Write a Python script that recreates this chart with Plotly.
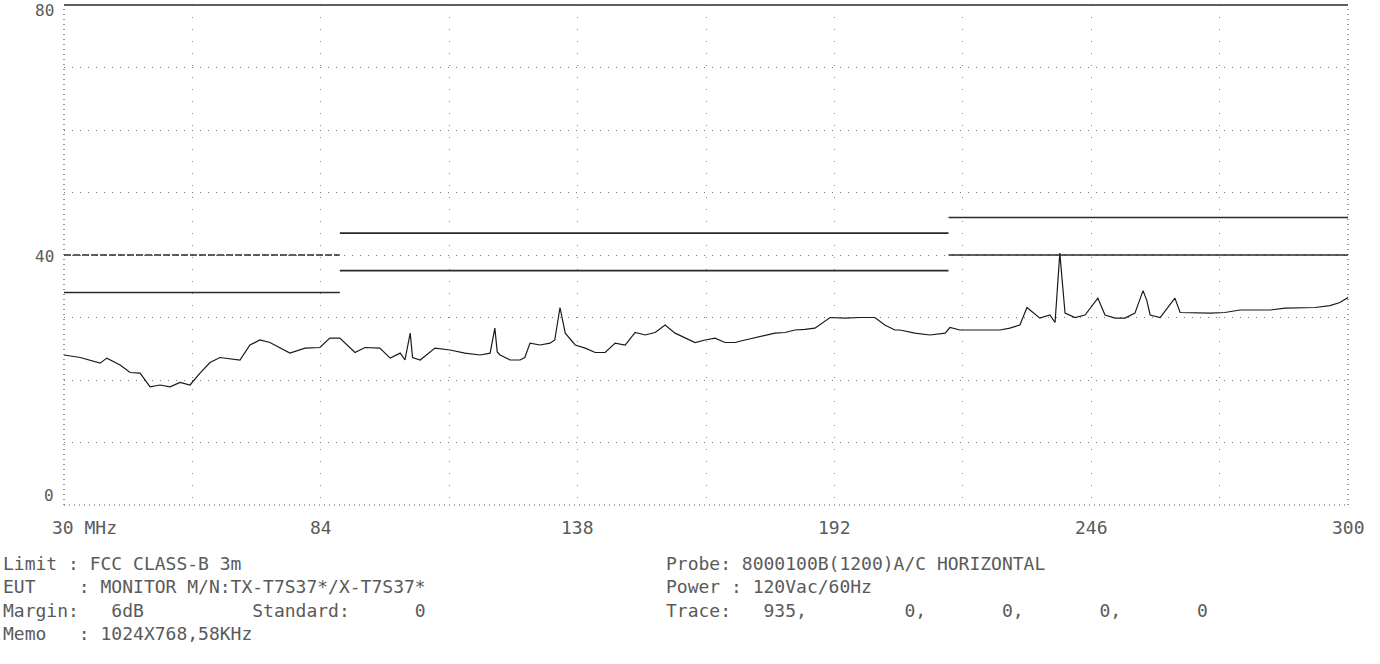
import plotly.graph_objects as go

# Scan: peak detector sweep, 30-300 MHz, dBuV/m
freq_mhz = [30.0, 33.4, 37.6, 39.0, 41.8, 43.9, 46.0, 48.1, 50.2, 52.3, 54.4, 56.5, 58.6,
            60.7, 62.8, 67.0, 69.1, 71.2, 73.3, 75.4, 77.5, 80.7, 83.8, 85.9, 88.0, 91.2,
            93.3, 96.4, 98.6, 100.7, 101.7, 102.8, 103.3, 104.9, 108.0, 111.2, 114.3, 117.5,
            119.6, 120.6, 121.1, 121.7, 123.8, 125.9, 126.9, 128.0, 130.1, 132.2, 133.2,
            134.3, 135.4, 137.5, 139.6, 141.7, 143.8, 145.9, 148.0, 150.1, 152.2, 154.3,
            156.4, 158.5, 160.6, 162.7, 164.8, 166.9, 169.0, 171.1, 173.2, 175.3, 177.4,
            179.5, 181.6, 183.7, 185.8, 187.9, 191.1, 194.2, 197.4, 200.5, 202.6, 204.7,
            205.8, 208.9, 212.1, 215.3, 216.3, 218.4, 220.5, 223.7, 226.8, 228.9, 231.0,
            232.5, 235.2, 237.3, 238.4, 239.4, 240.5, 242.6, 244.7, 247.4, 248.9, 251.0,
            253.1, 255.2, 256.9, 257.7, 258.4, 260.5, 263.6, 264.7, 267.8, 271.0, 274.1,
            277.3, 280.4, 283.6, 286.8, 289.9, 293.1, 296.2, 298.3, 300.0]
level_dbuv = [24.0, 23.6, 22.7, 23.5, 22.4, 21.2, 21.1, 18.9, 19.2, 18.9, 19.6, 19.2, 21.1,
              22.8, 23.6, 23.2, 25.6, 26.4, 26.0, 25.2, 24.3, 25.1, 25.2, 26.7, 26.7, 24.4,
              25.2, 25.1, 23.5, 24.3, 23.2, 27.5, 23.6, 23.2, 25.1, 24.8, 24.3, 24.0,
              24.3, 28.3, 24.5, 24.0, 23.2, 23.2, 23.6, 25.9, 25.6, 25.9, 26.4,
              31.6, 27.5, 25.6, 25.1, 24.4, 24.4, 25.9, 25.6, 27.6, 27.2, 27.6,
              28.8, 27.5, 26.8, 26.0, 26.4, 26.7, 26.0, 26.0, 26.4, 26.8, 27.2,
              27.5, 27.6, 28.0, 28.1, 28.3, 30.0, 29.9, 30.0, 30.0, 28.8, 28.0,
              28.0, 27.5, 27.2, 27.5, 28.4, 28.0, 28.0, 28.0, 28.0, 28.3, 28.8,
              31.6, 29.9, 30.4, 29.2, 40.3, 30.7, 30.0, 30.4, 33.1, 30.4, 29.9,
              29.9, 30.7, 34.3, 32.7, 30.4, 30.0, 33.1, 30.8, 30.7, 30.7, 30.8,
              31.2, 31.2, 31.2, 31.5, 31.6, 31.6, 31.9, 32.4, 33.2]

# FCC Class B (3 m) limit and limit minus 6 dB margin
limit_edges_mhz = [30, 88, 216, 300]
limit_dbuv = [40.0, 43.5, 46.0]
margin_db = 6.0

x_tick_vals = [30, 84, 138, 192, 246, 300]
x_tick_text = ["30 MHz", "84", "138", "192", "246", "300"]
y_tick_vals = [0, 40, 80]
y_tick_text = ["0", "40", "80"]

# test header, printed in two fixed-pitch columns
header_left = [
    "Limit : FCC CLASS-B 3m",
    "EUT    : MONITOR M/N:TX-T7S37*/X-T7S37*",
    "Margin:   6dB          Standard:      0",
    "Memo   : 1024X768,58KHz",
]
header_right = [
    "Probe: 8000100B(1200)A/C HORIZONTAL",
    "Power : 120Vac/60Hz",
    "Trace:   935,         0,       0,       0,       0",
]

W, H = 1380, 664
L, R, T, B = 64, 32, 5, 159
PW, PH = W - L - R, H - T - B
INK = "#2a2a2a"
TXT = "#5a5a5a"
FONT = "DejaVu Sans Mono"


def px(x):
    return (x - L) / PW


def py(y):
    return (H - B - y) / PH


fig = go.Figure()

# limit and margin lines, one segment per band
for i, lim in enumerate(limit_dbuv):
    x0, x1 = limit_edges_mhz[i], limit_edges_mhz[i + 1]
    fig.add_trace(go.Scatter(x=[x0, x1], y=[lim, lim], mode="lines",
                             line=dict(color=INK, width=1.6,
                                       dash="7px,2px" if i == 0 else "solid"),
                             hoverinfo="skip", showlegend=False))
    fig.add_trace(go.Scatter(x=[x0, x1], y=[lim - margin_db, lim - margin_db], mode="lines",
                             line=dict(color=INK, width=1.6),
                             hoverinfo="skip", showlegend=False))

fig.add_trace(go.Scatter(x=freq_mhz, y=level_dbuv, mode="lines",
                         line=dict(color="#1a1a1a", width=1.2),
                         showlegend=False))

common = dict(zeroline=False, showline=False, ticks="", showticklabels=False,
              showgrid=True, gridwidth=1)
fig.update_xaxes(range=[30, 300], tick0=30, dtick=27, gridcolor="#8a8a8a",
                 griddash="1px,11px", **common)
fig.update_yaxes(range=[0, 80], tick0=0, dtick=10, gridcolor="#7a7a7a",
                 griddash="1px,7px", **common)

# frame: solid top edge, dotted sides and bottom
fig.add_shape(type="line", xref="paper", yref="paper", x0=0, x1=1, y0=1, y1=1,
              line=dict(color=INK, width=1.6))
for (x0, y0, x1, y1) in [(0, 0, 0, 1), (1, 0, 1, 1), (0, 0, 1, 0)]:
    fig.add_shape(type="line", xref="paper", yref="paper", x0=x0, y0=y0, x1=x1, y1=y1,
                  line=dict(color="#555", width=1.2, dash="1px,4px"))

ann = []
for v, t in zip(x_tick_vals, x_tick_text):
    ann.append(dict(x=v, y=py(527), xref="x", yref="paper", text=t, showarrow=False,
                    xanchor="left" if v == 30 else "center", yanchor="middle",
                    xshift=-14 if v == 30 else 0,
                    font=dict(family=FONT, size=18, color=TXT)))
y_label_y = {0: 495, 40: 256, 80: 10}
for v, t in zip(y_tick_vals, y_tick_text):
    ann.append(dict(x=px(56), y=py(y_label_y[v]), xref="paper", yref="paper", text=t,
                    showarrow=False, xanchor="right", yanchor="middle",
                    font=dict(family=FONT, size=16, color=TXT)))

for left, lines in [(2, header_left), (665, header_right)]:
    ann.append(dict(x=px(left), y=py(552), xref="paper", yref="paper",
                    text="<br>".join(lines), showarrow=False, align="left",
                    xanchor="left", yanchor="top", borderpad=0,
                    font=dict(family=FONT, size=18, color=TXT)))

fig.update_layout(width=W, height=H, margin=dict(l=L, r=R, t=T, b=B),
                  paper_bgcolor="white", plot_bgcolor="white", annotations=ann,
                  showlegend=False)

fig.write_html("out.html")
